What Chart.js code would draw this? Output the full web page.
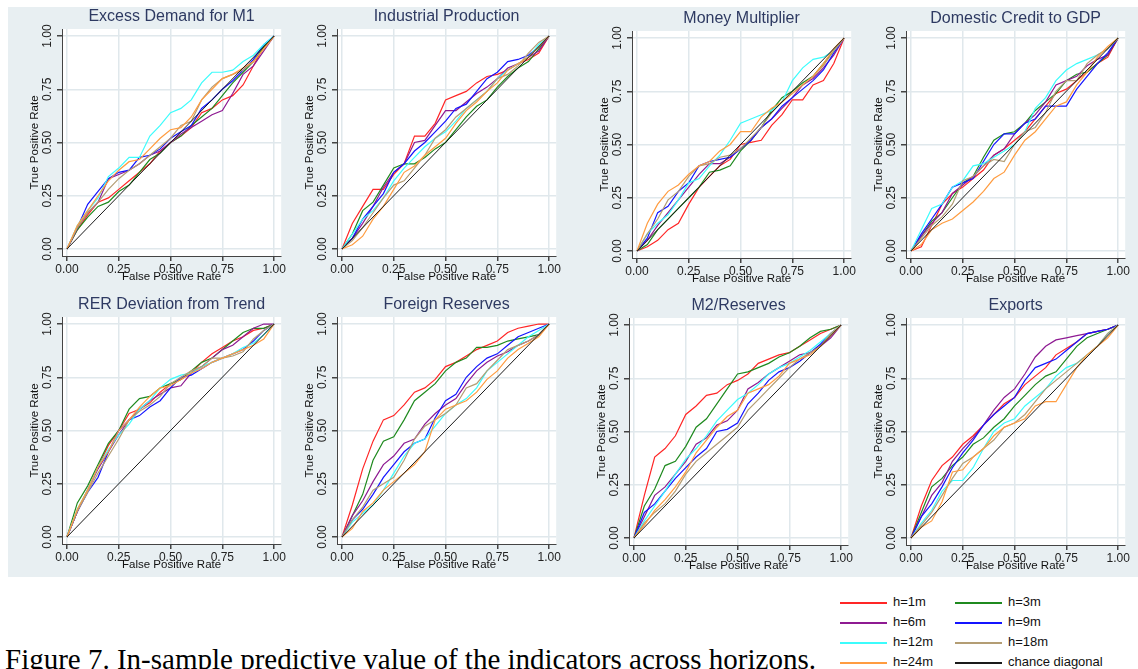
<!DOCTYPE html>
<html>
<head>
<meta charset="utf-8">
<script src="https://cdn.jsdelivr.net/npm/chart.js@4.4.1/dist/chart.umd.min.js"></script>
<style>
  body { margin:0; width:1138px; height:669px; position:relative; overflow:hidden; background:#fff;
         font-family:"Liberation Sans", Arial, sans-serif; }
  #fundo { position:absolute; left:8px; top:7px; width:1130px; height:570px; background:#e8eff2; }
  canvas { position:absolute; }
  .leg { position:absolute; height:16px; line-height:16px; font-size:13px; color:#111; white-space:nowrap; }
  .leg span.linha { display:inline-block; width:47px; height:2px; vertical-align:middle; margin-right:6px; }
  #legenda-fig { position:absolute; left:5px; top:643px; line-height:29px; font:29px "Liberation Serif", "Times New Roman", serif;
                 color:#000; white-space:nowrap; }
</style>
</head>
<body>
<div id="fundo"></div>
<div id="legenda-fig">Figure 7. In-sample predictive value of the indicators across horizons.</div>

<script>
// ─── Dados ────────────────────────────────────────────────────────────────────
const fpr = [0, .05, .10, .15, .20, .25, .30, .35, .40, .45, .50, .55, .60, .65, .70, .75, .80, .85, .90, .95, 1];
const marcas = [0, .25, .5, .75, 1];
const horizontes = ['h=1m', 'h=3m', 'h=6m', 'h=9m', 'h=12m', 'h=18m', 'h=24m'];
const titulos = ['Excess Demand for M1', 'Industrial Production', 'Money Multiplier', 'Domestic Credit to GDP',
                 'RER Deviation from Trend', 'Foreign Reserves', 'M2/Reserves', 'Exports'];

// linhas: h=1m, 3m, 6m, 9m, 12m, 18m, 24m (TPR em cada ponto de fpr)
const tprExcessoM1 = [
  [0, .09, .16, .22, .24, .28, .32, .36, .40, .46, .50, .53, .57, .64, .66, .70, .72, .77, .86, .95, 1],
  [0, .09, .15, .20, .22, .27, .30, .36, .42, .45, .50, .53, .58, .62, .66, .72, .78, .83, .88, .95, 1],
  [0, .10, .17, .22, .33, .35, .37, .40, .44, .46, .50, .54, .57, .60, .63, .65, .73, .82, .86, .93, 1],
  [0, .10, .21, .27, .33, .36, .37, .43, .44, .47, .52, .55, .58, .66, .70, .75, .79, .84, .89, .96, 1],
  [0, .11, .18, .24, .34, .38, .43, .43, .53, .58, .64, .66, .70, .78, .83, .83, .84, .88, .91, .96, 1],
  [0, .10, .17, .22, .28, .33, .37, .40, .44, .48, .52, .58, .60, .70, .76, .80, .82, .84, .88, .94, 1],
  [0, .11, .18, .25, .32, .37, .41, .42, .47, .52, .56, .57, .62, .70, .75, .80, .82, .85, .88, .94, 1],
];
const tprProdIndustrial = [
  [0, .12, .20, .28, .28, .35, .40, .53, .53, .59, .70, .72, .74, .78, .81, .82, .84, .87, .89, .92, 1],
  [0, .07, .18, .22, .30, .38, .40, .40, .43, .47, .50, .56, .62, .67, .70, .76, .81, .85, .88, .94, 1],
  [0, .05, .12, .20, .29, .36, .40, .50, .51, .58, .65, .65, .69, .73, .76, .80, .85, .87, .90, .93, 1],
  [0, .05, .14, .20, .26, .36, .40, .46, .50, .55, .60, .66, .68, .74, .80, .83, .88, .89, .91, .95, 1],
  [0, .07, .14, .18, .24, .32, .38, .43, .48, .52, .55, .60, .66, .70, .74, .80, .84, .87, .90, .96, 1],
  [0, .04, .10, .17, .24, .30, .32, .38, .44, .52, .56, .62, .66, .70, .74, .80, .82, .86, .92, .97, 1],
  [0, .02, .06, .14, .20, .28, .36, .39, .44, .48, .52, .59, .65, .69, .74, .78, .84, .87, .90, .95, 1],
];
const tprMultiplicador = [
  [0, .02, .05, .10, .13, .22, .30, .35, .40, .43, .50, .51, .52, .59, .64, .71, .71, .78, .80, .88, 1],
  [0, .03, .10, .15, .20, .25, .30, .37, .38, .40, .47, .52, .58, .66, .72, .75, .79, .82, .88, .94, 1],
  [0, .05, .12, .18, .24, .30, .36, .41, .41, .44, .48, .52, .58, .62, .67, .72, .78, .81, .86, .92, 1],
  [0, .06, .18, .21, .28, .32, .40, .42, .43, .44, .48, .52, .58, .62, .68, .72, .76, .80, .85, .93, 1],
  [0, .08, .13, .17, .24, .32, .34, .40, .45, .52, .60, .62, .64, .66, .70, .80, .86, .90, .91, .94, 1],
  [0, .08, .15, .24, .28, .35, .40, .41, .44, .45, .48, .53, .58, .65, .70, .74, .78, .82, .87, .94, 1],
  [0, .13, .22, .28, .31, .36, .40, .42, .47, .50, .56, .56, .63, .67, .70, .74, .78, .82, .88, .95, 1],
];
const tprCreditoPib = [
  [0, .02, .12, .22, .27, .30, .34, .38, .45, .48, .52, .56, .62, .68, .74, .76, .80, .84, .88, .91, 1],
  [0, .07, .14, .18, .25, .32, .35, .44, .52, .55, .56, .60, .66, .70, .74, .80, .83, .84, .88, .92, 1],
  [0, .07, .13, .18, .27, .31, .35, .40, .45, .48, .55, .60, .64, .70, .78, .80, .82, .87, .90, .92, 1],
  [0, .08, .15, .22, .30, .32, .34, .42, .50, .55, .55, .60, .62, .68, .68, .68, .76, .82, .88, .93, 1],
  [0, .10, .20, .22, .30, .33, .40, .41, .44, .47, .50, .56, .67, .72, .80, .85, .88, .90, .92, .95, 1],
  [0, .06, .12, .16, .22, .33, .35, .40, .43, .42, .50, .56, .58, .65, .75, .80, .80, .88, .92, .95, 1],
  [0, .03, .10, .13, .15, .19, .23, .28, .34, .37, .45, .52, .56, .62, .68, .70, .78, .84, .91, .96, 1],
];
const tprDesvioRer = [
  [0, .12, .22, .33, .43, .50, .58, .60, .63, .68, .72, .74, .77, .82, .86, .89, .92, .94, .97, .98, 1],
  [0, .16, .24, .34, .44, .50, .60, .65, .66, .70, .72, .74, .78, .82, .84, .88, .92, .96, .98, .98, 1],
  [0, .12, .22, .32, .40, .48, .55, .60, .64, .67, .70, .71, .77, .80, .84, .88, .90, .94, .98, 1, 1],
  [0, .12, .21, .28, .40, .50, .55, .57, .61, .64, .70, .75, .76, .79, .82, .84, .86, .88, .92, .97, 1],
  [0, .13, .22, .33, .41, .48, .53, .60, .64, .70, .74, .76, .77, .80, .82, .84, .86, .89, .91, .95, 1],
  [0, .12, .21, .30, .38, .46, .55, .59, .62, .66, .72, .75, .78, .80, .84, .84, .85, .87, .93, .97, 1],
  [0, .13, .22, .33, .40, .50, .55, .61, .66, .70, .71, .74, .77, .79, .82, .84, .86, .88, .90, .93, 1],
];
const tprReservas = [
  [0, .15, .32, .45, .55, .57, .62, .68, .70, .74, .80, .82, .85, .88, .90, .92, .96, .98, .99, 1, 1],
  [0, .10, .20, .36, .45, .47, .55, .64, .68, .72, .78, .82, .84, .89, .89, .90, .92, .93, .94, .95, 1],
  [0, .10, .17, .26, .34, .38, .44, .46, .53, .58, .62, .65, .72, .78, .82, .85, .87, .90, .92, .95, 1],
  [0, .08, .13, .20, .28, .34, .40, .44, .46, .56, .64, .67, .75, .80, .84, .86, .90, .94, .96, .98, 1],
  [0, .07, .11, .15, .22, .30, .38, .44, .46, .52, .58, .62, .65, .70, .78, .82, .86, .90, .94, .97, 1],
  [0, .08, .14, .22, .25, .28, .36, .46, .52, .55, .58, .62, .70, .72, .78, .83, .88, .90, .92, .95, 1],
  [0, .04, .12, .16, .22, .26, .30, .34, .40, .55, .60, .62, .64, .68, .74, .78, .84, .88, .91, .94, 1],
];
const tprM2Reservas = [
  [0, .20, .38, .42, .48, .58, .62, .67, .68, .72, .74, .77, .82, .84, .86, .87, .90, .93, .96, .98, 1],
  [0, .15, .23, .34, .36, .43, .52, .56, .63, .70, .77, .78, .80, .82, .85, .87, .90, .94, .97, .98, 1],
  [0, .10, .20, .24, .30, .36, .44, .47, .53, .55, .60, .70, .73, .77, .80, .83, .86, .87, .90, .94, 1],
  [0, .12, .16, .22, .28, .33, .38, .42, .50, .51, .54, .63, .68, .74, .78, .80, .83, .87, .91, .96, 1],
  [0, .08, .15, .22, .30, .37, .42, .48, .55, .60, .65, .68, .72, .77, .80, .82, .85, .88, .92, .96, 1],
  [0, .07, .12, .16, .22, .30, .36, .40, .44, .48, .52, .60, .65, .70, .75, .80, .84, .87, .90, .96, 1],
  [0, .06, .13, .18, .24, .31, .40, .46, .52, .57, .60, .68, .70, .72, .76, .82, .84, .86, .90, .95, 1],
];
const tprExportacoes = [
  [0, .15, .27, .34, .38, .44, .48, .53, .58, .63, .66, .72, .76, .80, .86, .89, .92, .96, .97, .98, 1],
  [0, .12, .24, .28, .34, .38, .44, .47, .52, .56, .62, .67, .72, .76, .78, .84, .90, .94, .96, .98, 1],
  [0, .10, .20, .26, .36, .42, .47, .53, .60, .66, .70, .77, .85, .90, .93, .94, .95, .96, .97, .98, 1],
  [0, .10, .16, .24, .33, .40, .46, .53, .58, .62, .66, .74, .80, .82, .84, .88, .92, .96, .97, .98, 1],
  [0, .07, .13, .22, .27, .27, .33, .42, .50, .54, .56, .62, .66, .70, .76, .80, .82, .86, .90, .96, 1],
  [0, .06, .12, .20, .28, .35, .38, .42, .46, .52, .54, .58, .64, .70, .74, .78, .82, .86, .90, .96, 1],
  [0, .05, .08, .17, .31, .32, .38, .42, .48, .52, .54, .56, .62, .64, .64, .72, .80, .86, .90, .94, 1],
];
const paineis = [tprExcessoM1, tprProdIndustrial, tprMultiplicador, tprCreditoPib,
                 tprDesvioRer, tprReservas, tprM2Reservas, tprExportacoes];

// ─── Estilo / layout ──────────────────────────────────────────────────────────
const cores = ['#ff2626', '#1f8a1f', '#8e1a92', '#1414ff', '#3cfcfc', '#b39d74', '#ff9c40'];
const corDiagonal = '#1a1a1a';
// canto superior esquerdo da área branca de cada painel (px)
const areas = [[62, 29], [337, 29], [632, 31], [906, 31], [62, 317], [337, 317], [629, 318], [906, 318]];
const AREA_W = 221, AREA_H = 227, EIXO_Y = 50, TOPO = 29, EIXO_X = 30, DIR = 4;
const FONTE = '"Liberation Sans", Arial, sans-serif';

// ─── Plugins ──────────────────────────────────────────────────────────────────
const fundoBranco = {
  id: 'fundoBranco',
  beforeDraw(chart) {
    const { ctx, chartArea: a } = chart;
    ctx.save();
    ctx.fillStyle = '#fff';
    ctx.fillRect(a.left, a.top, a.right - a.left, a.bottom - a.top);
    ctx.restore();
  },
};

// rótulos do eixo Y na vertical (como no Stata)
const rotulosY = {
  id: 'rotulosY',
  afterDraw(chart) {
    const { ctx, chartArea, scales: { y } } = chart;
    ctx.save();
    ctx.font = '12px ' + FONTE;
    ctx.fillStyle = '#222';
    ctx.textAlign = 'center';
    ctx.textBaseline = 'middle';
    marcas.forEach(v => {
      ctx.save();
      ctx.translate(chartArea.left - 14.5, y.getPixelForValue(v));
      ctx.rotate(-Math.PI / 2);
      ctx.fillText(v.toFixed(2), 0, 0);
      ctx.restore();
    });
    ctx.restore();
  },
};

const fixarMarcas = axis => { axis.ticks = marcas.map(v => ({ value: v })); };

function eixo(extra) {
  return Object.assign({
    type: 'linear',
    afterBuildTicks: fixarMarcas,
    grid: { color: '#e0e8ec', lineWidth: 1.5, tickColor: '#444', tickLength: 5, drawTicks: true },
    border: { color: '#444', width: 1 },
  }, extra);
}

// ─── Painéis ──────────────────────────────────────────────────────────────────
function criarPainel(i) {
  const [ax, ay] = areas[i];
  const cv = document.createElement('canvas');
  cv.width  = EIXO_Y + AREA_W + DIR;
  cv.height = TOPO + AREA_H + EIXO_X;
  cv.style.left = (ax - EIXO_Y) + 'px';
  cv.style.top  = (ay - TOPO) + 'px';
  document.body.appendChild(cv);

  const datasets = paineis[i].map((serie, k) => ({
    label: horizontes[k],
    data: serie.map((t, j) => ({ x: fpr[j], y: t })),
    borderColor: cores[k],
    borderWidth: 1.2,
    pointRadius: 0,
    order: horizontes.length + 1 - k,
  }));
  datasets.push({
    label: 'chance diagonal',
    data: [{ x: 0, y: 0 }, { x: 1, y: 1 }],
    borderColor: corDiagonal,
    borderWidth: 1,
    pointRadius: 0,
    order: 0,
  });

  new Chart(cv, {
    type: 'line',
    data: { datasets },
    options: {
      responsive: false,
      animation: false,
      devicePixelRatio: 1,
      events: [],
      layout: { padding: { left: 0, right: DIR, top: 0, bottom: 0 } },
      plugins: {
        legend: { display: false },
        tooltip: { enabled: false },
        title: {
          display: true, text: titulos[i], fullSize: false, color: '#2e3a62',
          font: { family: FONTE, size: 16, weight: 'normal' },
          padding: { top: 7, bottom: 2.8 },
        },
      },
      scales: {
        x: eixo({
          min: -0.024, max: 1.034,
          afterFit: s => { s.height = EIXO_X; },
          ticks: { color: '#222', padding: 1, maxRotation: 0, font: { family: FONTE, size: 12 },
                   callback: v => Number(v).toFixed(2) },
          title: { display: true, text: 'False Positive Rate', color: '#111',
                   font: { family: FONTE, size: 11.5 }, padding: { top: 0, bottom: 2 } },
        }),
        y: eixo({
          min: -0.033, max: 1.033,
          afterFit: s => { s.width = EIXO_Y; },
          ticks: { display: false },
          title: { display: true, text: 'True Positive Rate', color: '#111',
                   font: { family: FONTE, size: 11.5 }, padding: { top: 16, bottom: 0 } },
        }),
      },
    },
    plugins: [fundoBranco, rotulosY],
  });
}

paineis.forEach((_, i) => criarPainel(i));

// ─── Legenda comum ────────────────────────────────────────────────────────────
const itensLegenda = horizontes.map((h, k) => ({ texto: h, cor: cores[k] }))
  .concat([{ texto: 'chance diagonal', cor: corDiagonal }]);
itensLegenda.forEach((it, k) => {
  const d = document.createElement('div');
  d.className = 'leg';
  d.style.left = (k % 2 === 0 ? 840 : 955) + 'px';
  d.style.top  = (594 + Math.floor(k / 2) * 20) + 'px';
  d.innerHTML = `<span class="linha" style="background:${it.cor}"></span>${it.texto}`;
  document.body.appendChild(d);
});
</script>
</body>
</html>
